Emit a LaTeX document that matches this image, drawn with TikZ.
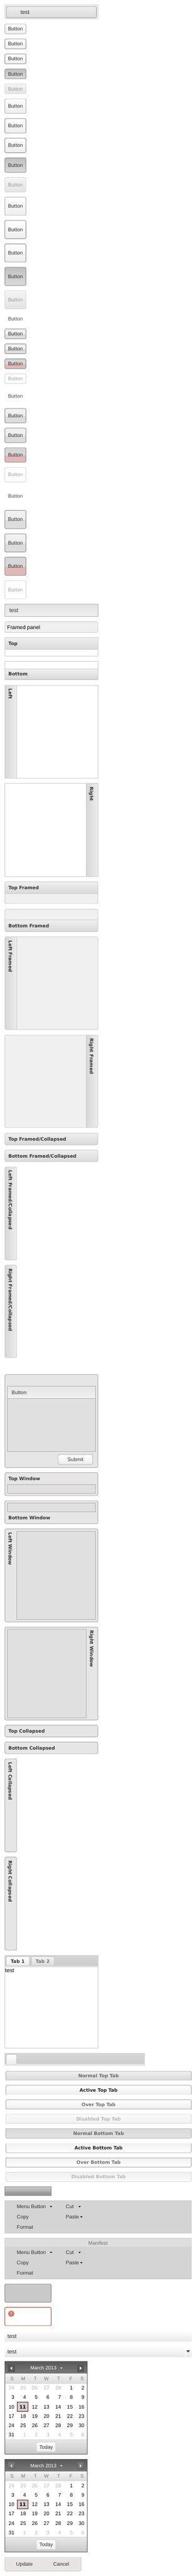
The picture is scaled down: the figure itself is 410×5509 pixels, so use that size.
\documentclass[tikz,border=0pt]{standalone}
\usepackage{fontspec}
\setmainfont{Liberation Sans}
\newfontfamily\titlefamily{DejaVu Sans}
\usetikzlibrary{positioning}
\definecolor{ink}{HTML}{333333}
\definecolor{paneledge}{HTML}{CCCCCC}
\definecolor{panelbg}{HTML}{F0F0F0}
\definecolor{winedge}{HTML}{A8A8A8}
\definecolor{winbg}{HTML}{E6E6E6}
\definecolor{wellbg}{HTML}{E0E0E0}
\definecolor{welledge}{HTML}{B8ACB0}
\definecolor{calgrey}{HTML}{B8B8B8}
\definecolor{calmark}{HTML}{800000}
\definecolor{alertred}{HTML}{B84030}
\definecolor{alertfill}{HTML}{E8705F}
\definecolor{menubg}{HTML}{D4D4D4}
\definecolor{pinklow}{HTML}{E0B8B8}
\definecolor{trayfill}{HTML}{E8E4E4}
\pgfdeclareverticalshading{splitplain}{100bp}{color(0bp)=(black!13); color(25bp)=(black!13); color(49.9bp)=(black!14); color(50bp)=(black!7); color(75bp)=(black!5); color(100bp)=(black!5)}
\pgfdeclareverticalshading{splitpink}{100bp}{color(0bp)=(pinklow); color(25bp)=(pinklow); color(49.9bp)=(pinklow); color(50bp)=(black!15); color(75bp)=(black!16); color(100bp)=(black!16)}
\pgfdeclareverticalshading{splitbar}{100bp}{color(0bp)=(black!42); color(25bp)=(black!42); color(49.9bp)=(black!36); color(50bp)=(black!32); color(75bp)=(black!20); color(100bp)=(black!20)}
\tikzset{   uilabel/.style = {inner sep = 0pt, outer sep = 0pt, text height = 8pt, text depth = 0pt, text = ink, font = \fontsize{11}{13}\selectfont},
            biglabel/.style = {uilabel, font = \fontsize{12}{14}\selectfont},
            titlelabel/.style = {uilabel, anchor = west, font = \titlefamily\bfseries\fontsize{10}{12}\selectfont},
            btnbase/.style = {uilabel, rounded corners = 2.5pt, minimum width = 45pt},
            btnnormal/.style = {btnbase, draw = black!30, top color = white, bottom color = black!7},
            btnhover/.style = {btnbase, draw = black!45, top color = white, bottom color = black!7},
            btnpress/.style = {btnbase, draw = black!45, top color = black!25, bottom color = black!14},
            btnoff/.style = {btnbase, draw = black!16, top color = black!4, bottom color = black!11, text = black!38},
            btnplain/.style = {btnbase, text = ink!85},
            tglnormal/.style = {btnbase, draw = black!45, shading = splitplain},
            tglpink/.style = {btnbase, draw = black!45, shading = splitpink},
            tgloff/.style = {btnbase, draw = black!16, fill = white, text = black!35},
            panel/.style = {draw = paneledge},
            headdown/.style = {draw = paneledge, top color = black!6, bottom color = black!15},
            headacross/.style = {draw = paneledge, left color = black!16, right color = black!7},
            window/.style = {draw = winedge, fill = winbg, rounded corners = 3pt},
            well/.style = {draw = welledge, fill = wellbg},
            tabshape/.style = {rounded corners = 2.5pt},
            tabdark/.style = {tabshape, draw = black!33, top color = black!6, bottom color = black!15},
            tablight/.style = {tabshape, draw = black!33, top color = white, bottom color = black!7},
            tabfaint/.style = {tabshape, draw = black!14, top color = black!2, bottom color = black!6},
            tabdarkup/.style = {tabshape, draw = black!33, top color = black!15, bottom color = black!11},
            tablightup/.style = {tabshape, draw = black!33, top color = black!6, bottom color = white},
            tabfaintup/.style = {tabshape, draw = black!14, top color = black!6, bottom color = black!2},
            tablabel/.style = {titlelabel, anchor = center},
            menulabel/.style = {uilabel, anchor = west},
            daylabel/.style = {uilabel, anchor = east},
            daybold/.style = {titlelabel, anchor = east},
            calhead/.style = {top color = black!65, bottom color = black!52},
            calbtndark/.style = {draw = black!68, fill = black!66},
            calbtnlite/.style = {draw = black!62, top color = black!50, bottom color = black!58}}

\begin{document}
\begin{tikzpicture}[x=1pt,y=-1pt,line width=1pt]
\useasboundingbox (0,0) rectangle (410,5509);

\draw[draw=black!16, fill=panelbg] (10.5,10.5) rectangle (209.5,40.5);
\node[btnbase, draw=black!38, top color=black!7, bottom color=black!14, minimum width=193pt, minimum height=24pt] (firstbar) at (110,26) {};
\node[biglabel] (firsttext) at (53.5,26) {test};

\foreach \nm/\ya/\hgt/\sty in {
    a/51.5/21/btnnormal, b/83.5/21/btnhover, c/115.5/21/btnhover, d/147.5/21/btnpress, e/179.5/21/btnoff,
    f/211.5/31/btnnormal, g/253.5/31/btnhover, h/295.5/31/btnhover, i/337.5/31/btnpress, j/379.5/31/btnoff,
    k/421.5/39/btnnormal, l/471.5/39/btnhover, m/521.5/39/btnhover, n/571.5/39/btnpress, o/621.5/39/btnoff,
    p/671.5/21/btnplain, q/703.5/21/tglnormal, r/735.5/21/tglnormal, s/767.5/21/tglpink, t/799.5/21/tgloff,
    u/831.5/31/btnplain, v/873.5/31/tglnormal, w/915.5/31/tglnormal, x/957.5/31/tglpink, y/999.5/31/tgloff,
    z/1041.5/39/btnplain, aa/1091.5/39/tglnormal, ab/1141.5/39/tglnormal, ac/1191.5/39/tglpink, ad/1241.5/39/tgloff}
    \node[\sty, minimum height=\hgt pt] (btn\nm) at (33,\ya+\hgt/2) {Button};

\draw[draw=welledge, top color=black!11, bottom color=black!6] (10.5,1291.5) rectangle (209.5,1318.5);
\node[biglabel, anchor=west] (slimtest) at (20,1305) {test};
\draw[panel, fill=panelbg, rounded corners=3pt] (10.5,1329.5) rectangle (209.5,1352.5);
\node[uilabel, anchor=west, text=black, font=\fontsize{11.5}{14}\selectfont] (framedlabel) at (15.3,1341.5) {Framed panel};

\foreach \nm/\ya/\yb/\ha/\hb/\txt/\rad/\bg in {
    top/1363.5/1403.5/1363.5/1388.5/Top/0/white,
    bottom/1414.5/1453.5/1430.5/1452.5/Bottom/0/white,
    topfr/1885.5/1932.5/1885.5/1910.5/Top Framed/3/panelbg,
    bottomfr/1944.5/1992.5/1967.5/1992.5/Bottom Framed/3/panelbg,
    topcoll/2423.5/2448.5/2423.5/2448.5/{Top Framed/Collapsed}/3/panelbg,
    bottomcoll/2459.5/2484.5/2459.5/2484.5/{Bottom Framed/Collapsed}/3/panelbg}{
    \fill[\bg, rounded corners=\rad pt] (10.5,\ya) rectangle (209.5,\yb);
    \begin{scope}
    \clip[rounded corners=\rad pt] (10.5,\ya) rectangle (209.5,\yb);
    \draw[headdown] (5,\ha) rectangle (215,\hb);
    \end{scope}
    \draw[panel, rounded corners=\rad pt] (10.5,\ya) rectangle (209.5,\yb);
    \node[titlelabel] (\nm) at (18,{(\ha+\hb)/2}) {\txt};
}

\foreach \nm/\ya/\yb/\xb/\ha/\hb/\txt/\rad/\bg in {
    left/1465.5/1664.5/209.5/10.5/35.5/Left/0/white,
    right/1675.5/1874.5/209.5/184.5/209.5/Right/0/white,
    leftfr/2003.5/2201.5/209.5/10.5/35.5/Left Framed/3/panelbg,
    rightfr/2213.5/2411.5/209.5/184.5/209.5/Right Framed/3/panelbg,
    leftcoll/2495.5/2694.5/35.5/10.5/35.5/{Left Framed/Collapsed}/3/panelbg,
    rightcoll/2705.5/2903.5/35.5/10.5/35.5/{Right Framed/Collapsed}/3/panelbg}{
    \fill[\bg, rounded corners=\rad pt] (10.5,\ya) rectangle (\xb,\yb);
    \begin{scope}
    \clip[rounded corners=\rad pt] (10.5,\ya) rectangle (\xb,\yb);
    \draw[headacross] (\ha,\ya-5) rectangle (\hb,\yb+5);
    \end{scope}
    \draw[panel, rounded corners=\rad pt] (10.5,\ya) rectangle (\xb,\yb);
    \node[titlelabel, rotate=-90] (\nm) at ({(\ha+\hb)/2-.5},\ya+7.5) {\txt};
}

\draw[window] (10.5,2939.5) rectangle (209.5,3138.5);
\draw[well] (15.5,2964.5) rectangle (204.5,3104.5);
\draw[draw=welledge, top color=black!10, bottom color=black!5] (15.5,2964.5) rectangle (204.5,2991);
\node[uilabel, anchor=west] (winbutton) at (25,2978) {Button};
\node[btnnormal, minimum width=74pt, minimum height=21pt] (winsubmit) at (161.5,3121) {Submit};

\foreach \nm/\ya/\yb/\ia/\ib/\ic/\ie/\txt/\tx/\ty/\rot in {
    topwin/3149.5/3198.5/15.5/3174.5/204.5/3193.5/Top Window/18/3162/0,
    bottomwin/3209.5/3258.5/15.5/3214.5/204.5/3233.5/Bottom Window/18/3246/0,
    leftwin/3269.5/3468.5/35.5/3274.5/204.5/3463.5/Left Window/22.3/3277/-90,
    rightwin/3479.5/3678.5/15.5/3484.5/184.5/3673.5/Right Window/196.7/3487/-90}{
    \draw[window] (10.5,\ya) rectangle (209.5,\yb);
    \draw[well] (\ia,\ib) rectangle (\ic,\ie);
    \node[titlelabel, rotate=\rot] (\nm) at (\tx,\ty) {\txt};
}

\foreach \nm/\ya/\yb/\xb/\txt/\tx/\ty/\rot in {
    topwc/3689.5/3714.5/209.5/Top Collapsed/18/3702/0,
    bottomwc/3725.5/3750.5/209.5/Bottom Collapsed/18/3738/0,
    leftwc/3761.5/3960.5/35.5/Left Collapsed/22.3/3769/-90,
    rightwc/3971.5/4170.5/35.5/Right Collapsed/22.3/3979/-90}{
    \draw[window] (10.5,\ya) rectangle (\xb,\yb);
    \node[titlelabel, rotate=\rot] (\nm) at (\tx,\ty) {\txt};
}

\draw[panel] (10.5,4181.5) rectangle (209.5,4380.5);
\draw[panel, top color=black!16, bottom color=black!20] (10.5,4181.5) rectangle (209.5,4203.5);
\draw[panel, fill=panelbg] (10.5,4203.5) rectangle (209.5,4206);
\draw[tablight, draw=black!25] (13.5,4203) |- (63,4184) -- (63,4203);
\node[tablabel] (tabone) at (38,4194) {Tab 1};
\draw[tabdark, draw=black!25, top color=black!5, bottom color=black!14] (67,4203) |- (116,4184) -- (116,4203);
\node[tablabel, text=black!55] (tabtwo) at (91.3,4194) {Tab 2};
\node[biglabel, anchor=west, text=black] (tabbody) at (11,4214.7) {test};

\draw[panel, top color=black!16, bottom color=black!20] (10.5,4391.5) rectangle (309.5,4416.5);
\fill[black!8] (11,4414) rectangle (309,4416);
\draw[tablight, draw=black!25] (13.5,4414) |- (35.5,4393.5) -- (35.5,4414);

\foreach \nm/\ya/\yb/\sty/\low/\col/\txt in {
    ntop/4429.5/4449/tabdark/black!22/black!58/Normal Top Tab,
    atop/4459.5/4480/tablight/black!7/black!85/Active Top Tab,
    otop/4490.5/4511/tablight/black!33/black!55/Over Top Tab,
    dtop/4521.5/4542/tabfaint/black!14/black!28/Disabled Top Tab}{
    \draw[\sty] (12.5,\yb) |- (409.5,\ya) -- (409.5,\yb);
    \draw[draw=\low] (12.5,\yb-.5) -- (409.5,\yb-.5);
    \node[tablabel, text=\col] (\nm) at (211,{(\ya+\yb)/2}) {\txt};
}

\foreach \nm/\ya/\yb/\sty/\low/\col/\txt in {
    nbot/4552/4572.5/tabdarkup/black!22/black!58/Normal Bottom Tab,
    abot/4583/4603.5/tablightup/black!6/black!85/Active Bottom Tab,
    obot/4614/4634.5/tablightup/black!33/black!55/Over Bottom Tab,
    dbot/4645/4665.5/tabfaintup/black!14/black!28/Disabled Bottom Tab}{
    \draw[\sty] (12.5,\ya) |- (409.5,\yb) -- (409.5,\ya);
    \draw[draw=\low] (12.5,\ya+.5) -- (409.5,\ya+.5);
    \node[tablabel, text=\col] (\nm) at (211,{(\ya+\yb)/2}) {\txt};
}

\draw[draw=black!48, shading=splitbar] (10.5,4676.5) rectangle (109.5,4695.5);

\draw[draw=black!22, fill=menubg] (10.5,4706.5) rectangle (409.5,4775.5);
\draw[draw=black!22, fill=menubg] (10.5,4786.5) rectangle (409.5,4873.5);
\fill[black!13] (11,4787) rectangle (409,4805);
\node[uilabel, text=black!55] (manifest) at (210,4797) {Manifest};
\foreach \nm/\off in {one/0,two/98}{
    \node[menulabel] (menu\nm) at (36,4719+\off) {Menu Button};
    \node[menulabel] (cut\nm) at (141,4719+\off) {Cut};
    \node[menulabel] (copy\nm) at (36,4741+\off) {Copy};
    \node[menulabel] (paste\nm) at (141,4741+\off) {Paste};
    \node[menulabel] (format\nm) at (36,4763+\off) {Format};
    \foreach \ax/\ay in {109.3/4719, 170.3/4719, 174.3/4741}
        \fill[black] (\ax-2.5,\ay+\off-1.2) -- (\ax+2.5,\ay+\off-1.2) -- (\ax,\ay+\off+1.6) -- cycle;
}

\draw[draw=black!48, fill=black!21, rounded corners=2.5pt] (10.5,4884.5) rectangle (109.5,4923.5);
\draw[draw=alertred, fill=white, rounded corners=2.5pt] (10.5,4934.5) rectangle (109.5,4973.5);
\node[circle, draw=alertred!70, fill=alertfill, minimum size=12.5pt, inner sep=0pt, text=white, font=\titlefamily\bfseries\fontsize{9}{10}\selectfont] (alert) at (24,4948) {!};

\fill[top color=white, bottom color=black!9] (10,4984) rectangle (410,5007);
\node[biglabel, anchor=west, text=black!85] (plainbar) at (16,4996) {test};
\fill[top color=white, bottom color=black!9] (10,5017) rectangle (410,5040);
\node[biglabel, anchor=west, text=black!85] (combobar) at (16,5029) {test};
\draw[draw=black!25] (395.5,5017) -- (395.5,5040);
\fill[white] (396,5017) rectangle (398,5040);
\fill[ink] (399,5026.5) -- (406.5,5026.5) -- (402.7,5030.5) -- cycle;

\foreach \cal/\off/\sty/\tip in {a/0/calbtndark/white, b/209/calbtnlite/black!15}{
\begin{scope}[yshift=-\off pt]
    \fill[calhead] (10.5,5050.5) rectangle (186.5,5077);
    \draw[\sty] (17.5,5057.5) rectangle (31.5,5071.5);
    \draw[\sty] (165.5,5057.5) rectangle (179.5,5071.5);
    \fill[\tip] (26,5061) -- (26,5068) -- (22,5064.5) -- cycle;
    \fill[\tip] (171,5061) -- (171,5068) -- (175,5064.5) -- cycle;
    \node[uilabel, text=white, font=\fontsize{10.5}{13}\selectfont] (month\cal) at (93,5063.7) {March 2013};
    \fill[white] (128.8,5063) -- (133.8,5063) -- (131.3,5065.6) -- cycle;
    \fill[top color=black!5, bottom color=black!14] (10.5,5077) rectangle (186.5,5097);
    \foreach \wkday/\wx [count=\k] in {S/25.7, M/49.7, T/75.7, W/99.3, T/125.7, F/151.7, S/175.7}
        \node[uilabel, text=black!55, font=\fontsize{10.5}{13}\selectfont] (week\cal\k) at (\wx,5086.3) {\wkday};
    \draw[draw=calmark, fill=black!19] (36.5,5137.5) rectangle (60.5,5156.5);
    \foreach \dnum [count=\i from 0] in {24,25,26,27,28,1,2,3,4,5,6,7,8,9,10,11,12,13,14,15,16,17,18,19,20,21,22,23,24,25,26,27,28,29,30,31,1,2,3,4,5,6}{
        \pgfmathtruncatemacro{\col}{mod(\i,7)}
        \pgfmathtruncatemacro{\row}{\i/7}
        \ifnum\i<5 \def\daycol{calgrey}\else\ifnum\i>35 \def\daycol{calgrey}\else\def\daycol{black}\fi\fi
        \ifnum\i=15 \def\daysty{daybold}\else\def\daysty{daylabel}\fi
        \node[\daysty, text=\daycol] (day\cal\i) at ({30.7+25*\col},{5107+20*\row}) {\dnum};
    }
    \fill[top color=black!9, bottom color=black!22] (10.5,5217) rectangle (186.5,5248.5);
    \draw[draw=black!16] (10.5,5217) -- (186.5,5217);
    \node[btnnormal, draw=black!18, minimum width=41pt, minimum height=20.5pt] (today\cal) at (98.7,5233) {Today};
    \draw[draw=black!65] (10.5,5050.5) rectangle (186.5,5248.5);
\end{scope}
}

\draw[draw=black!20, fill=trayfill, rounded corners=3pt] (10.5,5468) |- (173.5,5498.5) -- (173.5,5468);
\node[uilabel] (update) at (52.3,5483) {Update};
\node[uilabel] (cancel) at (131,5483) {Cancel};
\end{tikzpicture}
\end{document}
